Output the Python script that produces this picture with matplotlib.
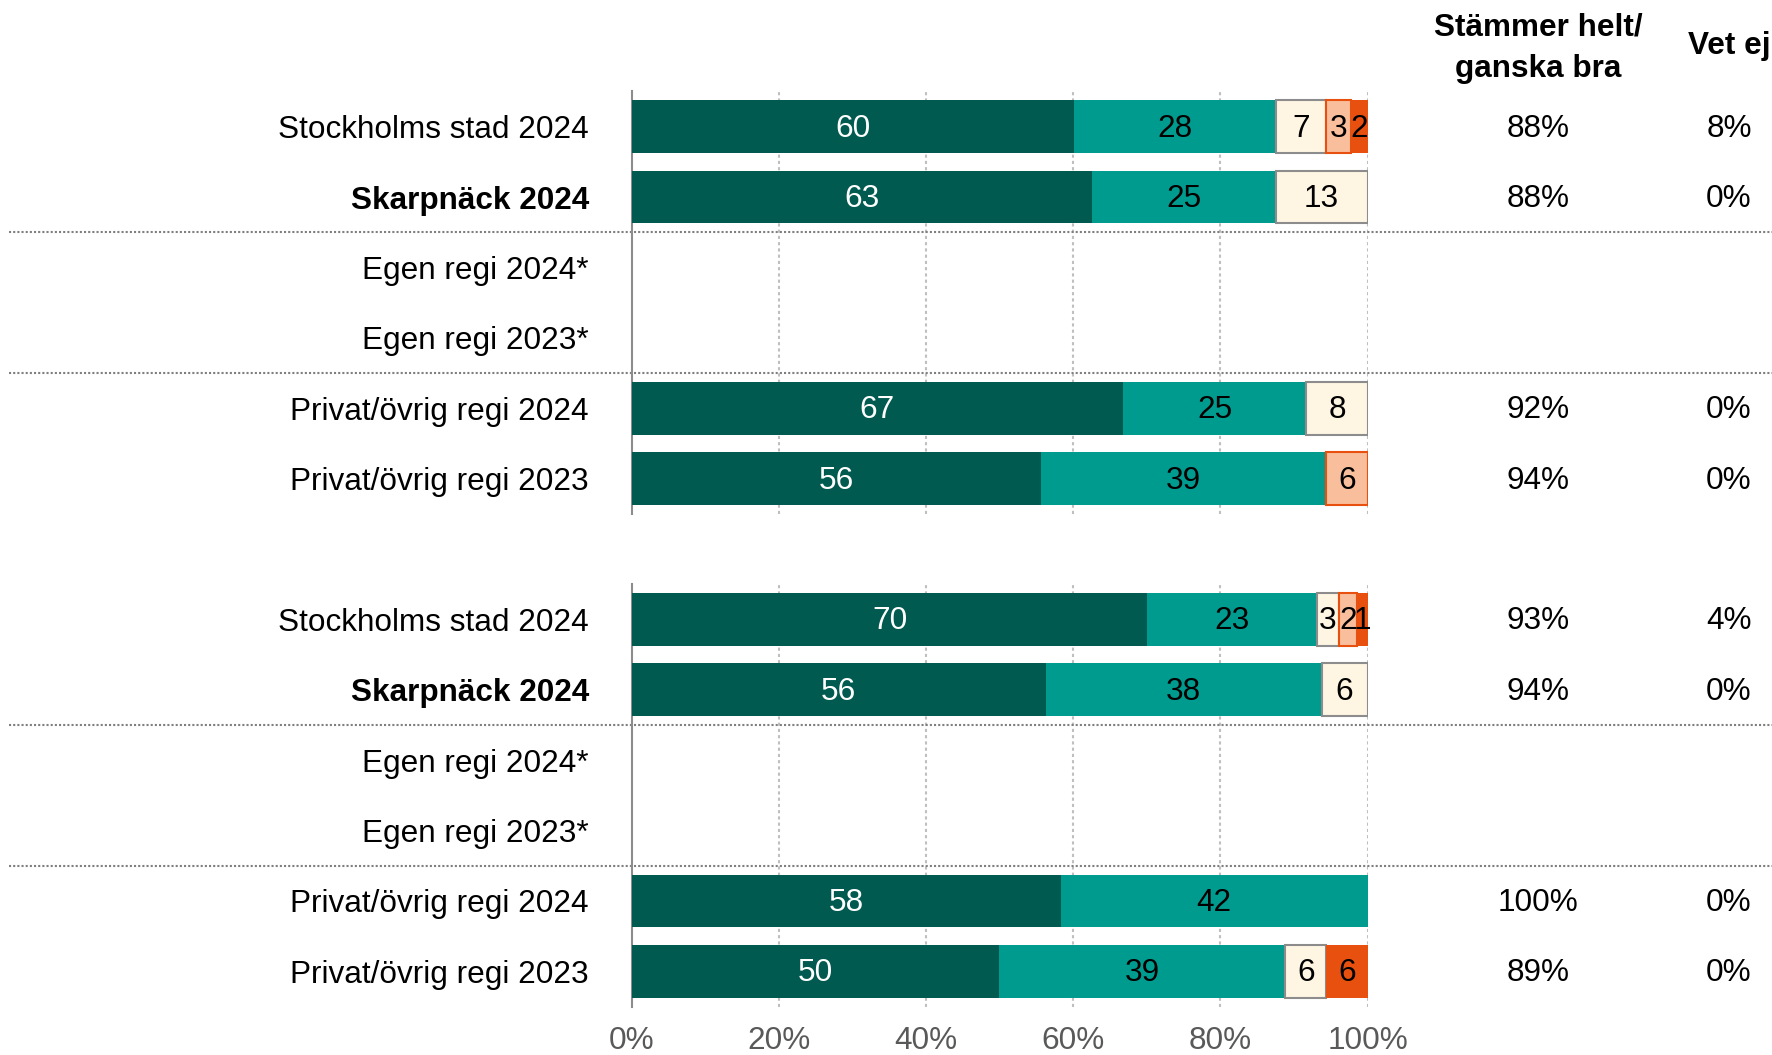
import matplotlib
matplotlib.use("Agg")
import matplotlib.pyplot as plt
from matplotlib.transforms import blended_transform_factory
import numpy as np

plt.rcParams['font.family'] = ['Liberation Sans', 'DejaVu Sans']

categories = ["Stockholms stad 2024", "Skarpnäck 2024", "Egen regi 2024*",
              "Egen regi 2023*", "Privat/övrig regi 2024", "Privat/övrig regi 2023"]
bold_rows = ["Skarpnäck 2024"]

# segment shares (%): helt, ganska, varken, ganska dåligt, helt dåligt
block1_helt   = [60.1, 62.5, 0, 0, 66.7, 55.6]
block1_ganska = [27.6, 25.0, 0, 0, 25.0, 38.9]
block1_varken = [6.8, 12.5, 0, 0, 8.3, 0]
block1_gdalig = [3.4, 0, 0, 0, 0, 5.6]
block1_hdalig = [2.2, 0, 0, 0, 0, 0]
block1_bra    = ["88%", "88%", "", "", "92%", "94%"]
block1_vetej  = ["8%", "0%", "", "", "0%", "0%"]

block2_helt   = [69.9, 56.25, 0, 0, 58.3, 50.0]
block2_ganska = [23.0, 37.5, 0, 0, 41.7, 38.9]
block2_varken = [3.1, 6.25, 0, 0, 0, 5.6]
block2_gdalig = [2.4, 0, 0, 0, 0, 0]
block2_hdalig = [1.4, 0, 0, 0, 0, 5.6]
block2_bra    = ["93%", "94%", "", "", "100%", "89%"]
block2_vetej  = ["4%", "0%", "", "", "0%", "0%"]

xticks = [0, 20, 40, 60, 80, 100]
xticklabels = ["0%", "20%", "40%", "60%", "80%", "100%"]
header_bra = "Stämmer helt/\nganska bra"
header_vetej = "Vet ej"

colors = ["#005A50", "#009B8F", "#FFF5E3", "#F9BE9B", "#E8500F"]
edges = [None, None, "#8C8C8C", "#E8500F", None]
txtcol = ["white", "black", "black", "black", "black"]

W, H = 1772, 1055
fig = plt.figure(figsize=(W / 100, H / 100), dpi=100)

left = 632 / W
width = (1367.5 - 632) / W
row_h = 70.4
ax_h = 6 * row_h / H
ax1 = fig.add_axes([left, 1 - (126.6 - row_h / 2 + 6 * row_h) / H, width, ax_h])
ax2 = fig.add_axes([left, 1 - (619.3 - row_h / 2 + 6 * row_h) / H, width, ax_h])

FS = 22.7

def draw_block(ax, data, bra, vetej, show_x):
    y = np.arange(len(categories))
    data = np.array(data, dtype=float)
    totals = data.sum(axis=0)
    totals[totals == 0] = 1
    widths = data / totals * 100
    lefts = np.zeros(len(categories))
    for k in range(5):
        for i in range(len(categories)):
            w = widths[k, i]
            if data[k, i] <= 0:
                continue
            ec = edges[k]
            ax.barh(y[i], w, left=lefts[i], height=0.75, color=colors[k],
                    edgecolor=ec if ec else 'none', linewidth=1.5 if ec else 0, zorder=3)
            ax.text(lefts[i] + w / 2, y[i] + 0.03, f"{int(data[k, i] + 0.5)}", ha='center',
                    va='center', color=txtcol[k], fontsize=FS, zorder=4)
        lefts += widths[k]
    ax.set_xlim(0, 100)
    ax.set_ylim(5.5, -0.5)
    ax.set_yticks(y)
    ax.set_yticklabels(categories, fontsize=FS)
    for lab in ax.get_yticklabels():
        if lab.get_text() in bold_rows:
            lab.set_fontweight('bold')
    ax.tick_params(axis='y', length=0, pad=31)
    ax.set_xticks(xticks)
    if show_x:
        ax.set_xticklabels(xticklabels, fontsize=FS, color='#595959')
    else:
        ax.set_xticklabels([])
    ax.tick_params(axis='x', length=0, pad=14)
    for s in ['top', 'right', 'bottom']:
        ax.spines[s].set_visible(False)
    ax.spines['left'].set_color('#8C8C8C')
    ax.spines['left'].set_linewidth(1.5)
    ax.set_axisbelow(True)
    for xv in xticks[1:]:
        ax.axvline(xv, color='#BFBFBF', linestyle=(0, (1.5, 1.5)), linewidth=1.5, zorder=1)
    tr = blended_transform_factory(fig.transFigure, ax.transData)
    for yy in [1.5, 3.5]:
        ax.plot([0.005, 1.0], [yy, yy], transform=tr, color='#7F7F7F',
                linestyle=(0, (1, 1)), linewidth=1.5, clip_on=False, zorder=2)
    for i in range(len(categories)):
        ax.text(1538 / W, y[i] + 0.03, bra[i], transform=tr, ha='center', va='center', fontsize=FS)
        ax.text(1729 / W, y[i] + 0.03, vetej[i], transform=tr, ha='center', va='center', fontsize=FS)

draw_block(ax1, [block1_helt, block1_ganska, block1_varken, block1_gdalig, block1_hdalig],
           block1_bra, block1_vetej, False)
draw_block(ax2, [block2_helt, block2_ganska, block2_varken, block2_gdalig, block2_hdalig],
           block2_bra, block2_vetej, True)

fig.text(1538 / W, 1 - 48 / H, header_bra, ha='center', va='center', fontsize=FS,
         fontweight='bold', linespacing=1.5)
fig.text(1729 / W, 1 - 46 / H, header_vetej, ha='center', va='center', fontsize=FS,
         fontweight='bold')

fig.savefig("out.png", dpi=100)
